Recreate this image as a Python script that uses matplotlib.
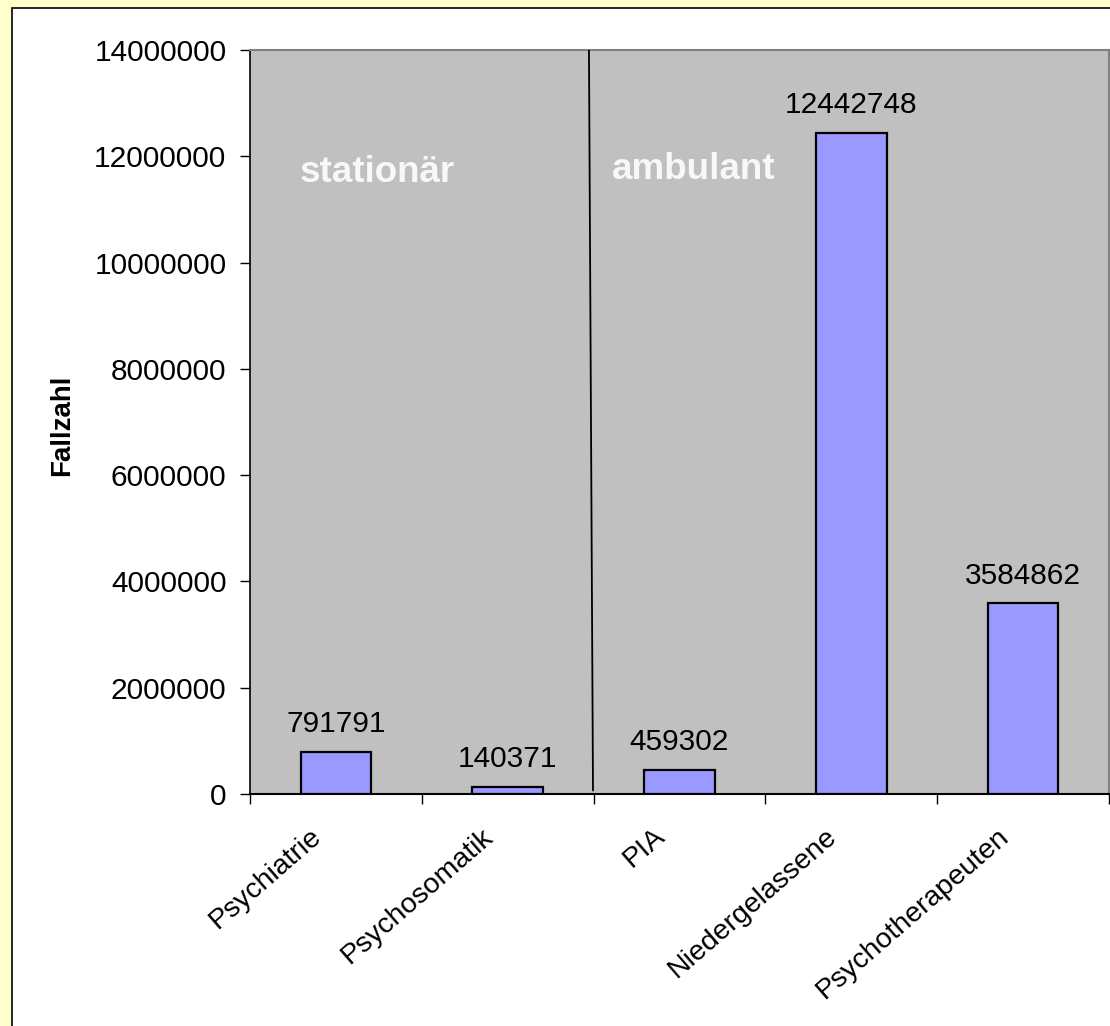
import matplotlib
matplotlib.use("Agg")
import matplotlib.pyplot as plt
import matplotlib.transforms as mtransforms
from matplotlib.patches import Rectangle

categories = ["Psychiatrie", "Psychosomatik", "PIA", "Niedergelassene", "Psychotherapeuten"]
values = [791791, 140371, 459302, 12442748, 3584862]
y_ticks = [0, 2000000, 4000000, 6000000, 8000000, 10000000, 12000000, 14000000]
group_labels = ["stationär", "ambulant"]

plt.rcParams['font.family'] = ['Liberation Sans', 'DejaVu Sans']

W, H = 1110, 1026
FS = 21.5
fig = plt.figure(figsize=(W / 100, H / 100), dpi=100)
fig.patch.set_facecolor('#FFFFCC')

# white inner panel with black border
panel = Rectangle((12 / W, -0.01), 1.1, (H - 8) / H + 0.01, transform=fig.transFigure,
                  facecolor='white', edgecolor='black', linewidth=1.2, zorder=-10)
fig.patches.append(panel)

ax = fig.add_axes([250 / W, (H - 794) / H, (1109 - 250) / W, (794 - 50) / H])
ax.set_zorder(1)
ax.set_facecolor('#C0C0C0')

x = list(range(len(categories)))
ax.bar(x, values, width=0.41, color='#9999FF', edgecolor='black', linewidth=1.6, zorder=3)

ax.set_xlim(-0.5, len(categories) - 0.5)
ax.set_ylim(0, 14000000)
ax.set_yticks(y_ticks)
ax.set_yticklabels([str(v) for v in y_ticks], fontsize=FS)
ax.tick_params(axis='y', direction='out', length=7, width=1, pad=10, colors='black')

# x ticks at category boundaries
ax.set_xticks([i - 0.5 for i in range(len(categories) + 1)])
ax.set_xticklabels([])
ax.tick_params(axis='x', direction='out', length=7, width=1, colors='black')

for s in ['top', 'right']:
    ax.spines[s].set_color('#808080')
    ax.spines[s].set_linewidth(1.5)
ax.spines['left'].set_color('black')
ax.spines['left'].set_linewidth(1.2)
ax.spines['bottom'].set_color('black')
ax.spines['bottom'].set_linewidth(1.5)

# category labels rotated
for i, c in enumerate(categories):
    off = mtransforms.ScaledTranslation(-18 / 100, -39 / 100, fig.dpi_scale_trans)
    tr = mtransforms.blended_transform_factory(ax.transData, ax.transAxes) + off
    ax.text(i, 0, c, transform=tr, rotation=41, rotation_mode='anchor',
            ha='right', va='center', fontsize=20.5, clip_on=False)

# value labels
for i, v in enumerate(values):
    ax.annotate(str(v), (i, v), xytext=(0, 14), textcoords='offset points',
                ha='center', va='baseline', fontsize=FS, zorder=4)

# separator line between stationär and ambulant
ax.plot([0.3946, 0.3993], [1.0, 0.005], transform=ax.transAxes, color='black',
        linewidth=1.3, zorder=4)

# group labels
ax.text(0.0582, (794 - 182) / 744, group_labels[0], transform=ax.transAxes,
        fontsize=26.5, fontweight='bold', color='#F8F8F8', ha='left', va='baseline')
ax.text(0.4214, (794 - 179) / 744, group_labels[1], transform=ax.transAxes,
        fontsize=26.5, fontweight='bold', color='#F8F8F8', ha='left', va='baseline')

fig.text(62 / W, 1 - 425 / H, "Fallzahl", rotation=90, fontsize=20, fontweight='bold',
         ha='center', va='center')

fig.savefig("out.png", dpi=100, facecolor=fig.get_facecolor())
